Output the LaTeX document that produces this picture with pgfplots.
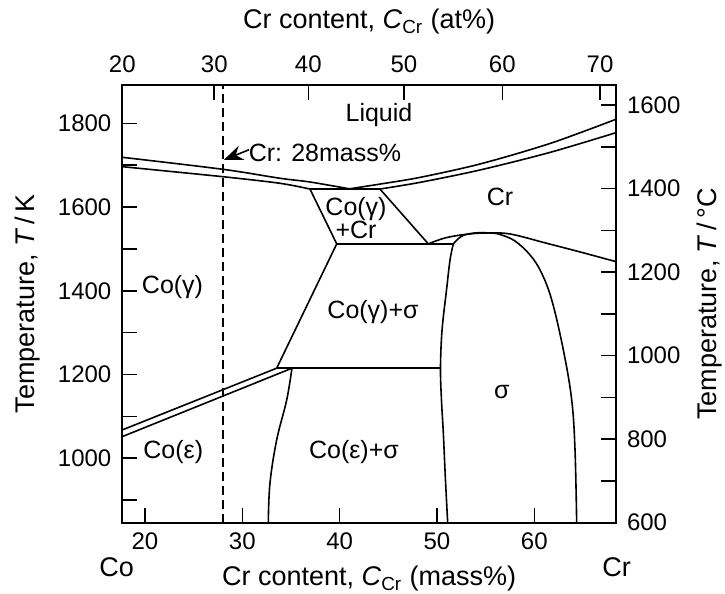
\documentclass[border=0pt]{standalone}
\usepackage{fontspec}
\setmainfont{Liberation Sans}
\usepackage{pgfplots}
\pgfplotsset{compat=1.18}
\usetikzlibrary{arrows.meta}
\tikzset{
  pl/.style={black, line width=0.8pt},
  rl/.style={font=\fontsize{12.5}{14}\selectfont, inner sep=0pt},
}
\begin{document}
\begin{tikzpicture}
\pgfplotsset{
  common/.style={
    scale only axis, width=246.85pt, height=218.85pt,
    xmin=17.67, xmax=68.39,
    axis line style={line width=1pt},
    tick style={line width=0.8pt, black},
    major tick length=7.5pt, minor tick length=7.5pt,
    tick align=inside,
    /pgf/number format/assume math mode=true,
    /pgf/number format/1000 sep={},
    ticklabel style={font=\fontsize{12}{14}\selectfont, inner sep=0pt},
    label style={font=\fontsize{13.5}{16}\selectfont},
  },
}
\begin{axis}[common,
  ymin=846, ymax=1891.5,
  xtick={20,30,40,50,60}, xtick pos=left,
  ytick={1000,1200,1400,1600,1800}, minor ytick={900,1100,1300,1500,1700}, ytick pos=left,
  xticklabel style={anchor=base, yshift=-13.65pt},
  yticklabel style={anchor=east, xshift=-5.3pt},
  xlabel={Cr content, \textit{C}\textsubscript{Cr} (mass\%)},
  xlabel style={at={(axis description cs:0.5,-0.1444)}, anchor=base},
  ylabel={Temperature, \textit{T}\,/\,K},
  ylabel style={at={(axis description cs:-0.1912,0.5)}, anchor=center},
  clip mode=individual,
]
% dashed composition line
\addplot[pl, no marks, dash pattern=on 4.5pt off 2.5pt, line width=0.8pt] coordinates {(28,846) (28,1891.5)};
% left liquidus and solidus
\addplot[pl, no marks, smooth, tension=0.5] coordinates {(17.67,1718.8) (27.98,1690.2) (33.87,1668.7) (36.95,1659.8) (41.0,1643.5)};
\addplot[pl, no marks, smooth, tension=0.5] coordinates {(17.67,1696.4) (27.98,1672.5) (33.87,1656.7) (36.95,1643)};
% eutectic line
\addplot[pl, no marks] coordinates {(36.95,1643) (44.14,1643)};
% right liquidus and solidus
\addplot[pl, no marks, smooth, tension=0.5] coordinates {(41.0,1643.5) (44.14,1654.8) (48.25,1670.8) (54.42,1702.8) (61.61,1751.8) (68.39,1809.6)};
\addplot[pl, no marks, smooth, tension=0.5] coordinates {(44.14,1643) (48.25,1658.9) (54.42,1688.5) (61.61,1730.5) (68.39,1777.6)};
% Co(gamma)+Cr region
\addplot[pl, no marks] coordinates {(36.95,1643) (39.70,1512)};
\addplot[pl, no marks] coordinates {(44.14,1643) (49.11,1512)};
\addplot[pl, no marks] coordinates {(39.70,1512) (51.68,1512)};
% Cr solvus
\addplot[pl, no marks, smooth, tension=0.6] coordinates {(49.11,1512) (50.82,1526.1) (52.88,1534.5) (54.93,1538.0) (57.50,1535.6) (61.27,1513.4) (64.70,1492.7) (68.39,1469.5)};
% sigma dome (upper and right)
\addplot[pl, no marks, smooth, tension=0.6] coordinates {(51.68,1512) (52.57,1530.9) (53.91,1538.0) (55.45,1538.0) (56.47,1534.5) (58.01,1518.9) (59.56,1485.5) (60.69,1444.9) (61.79,1378.0) (62.98,1258.6) (63.84,1139.2) (64.18,1019.8) (64.35,846)};
% sigma left boundary
\addplot[pl, no marks, smooth, tension=0.6] coordinates {(51.68,1512) (51.34,1473.6) (50.98,1402.0) (50.52,1306.4) (50.36,1215.7) (50.46,1139.2) (50.65,1060.4) (50.87,948.2) (51.10,846)};
% 1215 K line
\addplot[pl, no marks] coordinates {(33.53,1215) (50.36,1215)};
% Co(gamma)+sigma left boundary
\addplot[pl, no marks] coordinates {(39.70,1512) (33.53,1215)};
% Co(gamma)/Co(epsilon) transition
\addplot[pl, no marks] coordinates {(17.67,1067.6) (33.53,1215)};
\addplot[pl, no marks] coordinates {(17.67,1051.6) (35.1,1215)};
% Co(epsilon)/Co(epsilon)+sigma boundary
\addplot[pl, no marks, smooth, tension=0.6] coordinates {(35.1,1215) (34.56,1139.2) (33.53,1043.7) (32.84,940.3) (32.67,846)};
% labels
\node[rl] at (axis cs:44.04,1819.8) {Liquid};
\node[rl, anchor=west] at (axis cs:30.62,1728.4) {Cr: 28mass\%};
\draw[line width=0.8pt, -{Stealth[length=9.5pt,width=7.5pt]}] (axis cs:30.7,1737) -- (axis cs:28.1,1712.4);
\node[rl, align=center, font=\fontsize{12.5}{11.5}\selectfont] at (axis cs:41.68,1573.9) {Co(γ)\\+Cr};
\node[rl] at (axis cs:22.83,1409.8) {Co(γ)};
\node[rl] at (axis cs:43.43,1350.1) {Co(γ)+σ};
\node[rl] at (axis cs:56.47,1624.7) {Cr};
\node[rl] at (axis cs:56.65,1159.1) {σ};
\node[rl] at (axis cs:22.91,1015.8) {Co(ε)};
\node[rl] at (axis cs:41.47,1015.8) {Co(ε)+σ};
\node[rl, anchor=base, font=\fontsize{13.5}{16}\selectfont] at (axis description cs:-0.0113,-0.1218) {Co};
\node[rl, anchor=base, font=\fontsize{13.5}{16}\selectfont] at (axis description cs:1.0014,-0.1218) {Cr};
\end{axis}
\begin{axis}[common,
  ymin=600, ymax=1648,
  xtick={17.67,27.12,36.78,46.61,56.71,66.75},
  xticklabels={20,30,40,50,60,70},
  xtick pos=right, xticklabel pos=right,
  ytick={600,800,1000,1200,1400,1600}, minor ytick={700,900,1100,1300,1500},
  ytick pos=right, yticklabel pos=right,
  xticklabel style={anchor=base, yshift=6pt},
  yticklabel style={anchor=west, xshift=5.3pt},
  xlabel={Cr content, \textit{C}\textsubscript{Cr} (at\%)},
  xlabel style={at={(axis description cs:0.5,1.128)}, anchor=base},
  ylabel={Temperature, \textit{T}\,/\,°C},
  ylabel style={at={(axis description cs:1.1904,0.5)}, anchor=center},
]
\end{axis}
\pgfresetboundingbox
\path (-61.15pt,-35.65pt) rectangle (301.35pt,261.35pt);
\end{tikzpicture}
\end{document}
